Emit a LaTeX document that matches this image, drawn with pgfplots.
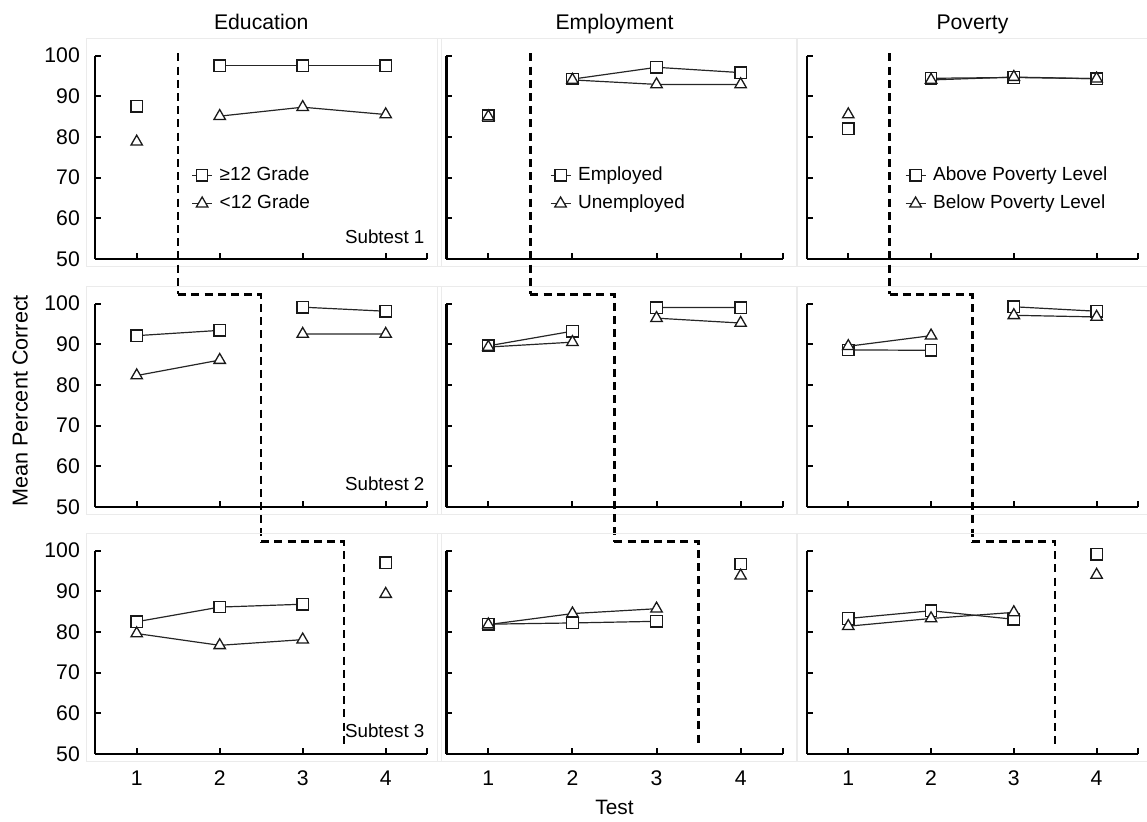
\documentclass[border=0pt]{standalone}
\usepackage{fontspec}
\setmainfont{Liberation Sans}
\usepackage{pgfplots}
\pgfplotsset{compat=1.18}
\pgfplotsset{
  panel/.style={
    scale only axis, height=101.75pt,
    xmin=0.5, xmax=4.5, ymin=50, ymax=100,
    axis x line*=bottom, axis y line*=left,
    axis line style={line width=1.2pt, -, black},
    tick align=inside, major tick length=2.8pt,
    every tick/.style={black, line width=1pt},
    xtick={1,2,3,4}, ytick={50,60,70,80,90,100},
    extra x ticks={4.5}, extra x tick labels={},
    extra x tick style={grid=none, tick align=inside, major tick length=2.8pt},
    xticklabels={}, yticklabels={},
    tick label style={font=\fontsize{10.6}{12}\selectfont},
    yticklabel style={anchor=east, inner sep=0pt, xshift=-7.5pt},
    xticklabel style={anchor=base, inner sep=0pt, yshift=-15.5pt},
    /pgf/number format/assume math mode=true,
    clip=false, anchor=south west,
    unbounded coords=jump,
    legend cell align=left,
    legend image code/.code={\draw[mark repeat=2,mark phase=2] plot coordinates {(0pt,0pt) (5pt,0pt) (10pt,0pt)};},
    legend style={draw=none, fill=none, inner sep=0pt, anchor=west,
      font=\fontsize{9.5}{11}\selectfont, row sep=3.3pt, column sep=2.5pt,
      nodes={inner sep=1pt, text height=6.9pt, text depth=2pt}},
  },
  ylab/.style={yticklabels={50,60,70,80,90,100}},
  xlab/.style={xticklabels={1,2,3,4}},
  sq/.style={color=black!85, line width=0.6pt, mark=square*, mark size=2.85pt,
    mark options={fill=white, draw=black!90, line width=0.65pt}},
  tri/.style={color=black!85, line width=0.6pt, mark=triangle*, mark size=3.3pt,
    mark options={fill=white, draw=black!90, line width=0.65pt}},
}
\tikzset{
  sep/.style={black, line width=1.2pt, dash pattern=on 4pt off 2.6pt},
  frame/.style={black!8, line width=0.5pt},
  ttl/.style={anchor=base, font=\fontsize{10.6}{12}\selectfont},
  sub/.style={anchor=base east, inner sep=0pt, font=\fontsize{9.4}{11}\selectfont},
}
\begin{document}
\begin{tikzpicture}
\useasboundingbox (0pt,0pt) rectangle (573.5pt,410.5pt);

% ===== Row 1 (Subtest 1) =====
\begin{axis}[panel, ylab, width=166pt, at={(47.6pt,281pt)},
  legend style={at={(0.289,0.342)}}]
  \draw[frame] (axis description cs:-0.027,-0.038) rectangle (axis description cs:1.042,1.082);
  \addplot[sq] coordinates {(1,87.5) (1.5,nan) (2,97.5) (3,97.5) (4,97.5)};
  \addlegendentry{≥12 Grade}
  \addplot[tri] coordinates {(1,78.8) (1.5,nan) (2,85.1) (3,87.3) (4,85.5)};
  \addlegendentry{<12 Grade}
  \draw[sep] (axis cs:1.5,100.5) -- (axis cs:1.5,41.3);
  \node[ttl] at (axis description cs:0.5,1.1266) {Education};
  \node[sub] at (axis description cs:0.993,0.077) {Subtest 1};
\end{axis}

\begin{axis}[panel, width=168.2pt, at={(223.15pt,281pt)},
  legend style={at={(0.307,0.342)}}]
  \draw[frame] (axis description cs:-0.027,-0.038) rectangle (axis description cs:1.042,1.082);
  \addplot[sq] coordinates {(1,85.2) (1.5,nan) (2,94.2) (3,97.1) (4,95.8)};
  \addlegendentry{Employed}
  \addplot[tri] coordinates {(1,85.0) (1.5,nan) (2,94.0) (3,92.9) (4,92.9)};
  \addlegendentry{Unemployed}
  \draw[sep] (axis cs:1.5,100.5) -- (axis cs:1.5,41.3);
  \node[ttl] at (axis description cs:0.5,1.1266) {Employment};
\end{axis}

\begin{axis}[panel, width=165.55pt, at={(403.45pt,281pt)},
  legend style={at={(0.295,0.342)}}]
  \draw[frame] (axis description cs:-0.027,-0.038) rectangle (axis description cs:1.042,1.082);
  \addplot[sq] coordinates {(1,82.0) (1.5,nan) (2,94.4) (3,94.6) (4,94.3)};
  \addlegendentry{Above Poverty Level}
  \addplot[tri] coordinates {(1,85.5) (1.5,nan) (2,94.0) (3,94.7) (4,94.3)};
  \addlegendentry{Below Poverty Level}
  \draw[sep] (axis cs:1.5,100.5) -- (axis cs:1.5,41.3);
  \node[ttl] at (axis description cs:0.5,1.1266) {Poverty};
\end{axis}

% ===== Row 2 (Subtest 2) =====
\begin{axis}[panel, ylab, width=166pt, at={(47.6pt,157pt)}]
  \draw[frame] (axis description cs:-0.027,-0.038) rectangle (axis description cs:1.042,1.082);
  \addplot[sq] coordinates {(1,92.1) (2,93.4) (2.5,nan) (3,99.1) (4,98.1)};
  \addplot[tri] coordinates {(1,82.3) (2,86.1) (2.5,nan) (3,92.5) (4,92.5)};
  \draw[sep] (axis cs:1.5,102.2) -- (axis cs:2.5,102.2) -- (axis cs:2.5,41.4);
  \node[sub] at (axis description cs:0.993,0.08) {Subtest 2};
  \node[rotate=90, anchor=center, font=\fontsize{10.8}{13}\selectfont] at (axis description cs:-0.226,0.522) {Mean Percent Correct};
\end{axis}

\begin{axis}[panel, width=168.2pt, at={(223.15pt,157pt)}]
  \draw[frame] (axis description cs:-0.027,-0.038) rectangle (axis description cs:1.042,1.082);
  \addplot[sq] coordinates {(1,89.6) (2,93.2) (2.5,nan) (3,99.0) (4,99.0)};
  \addplot[tri] coordinates {(1,89.3) (2,90.5) (2.5,nan) (3,96.4) (4,95.2)};
  \draw[sep] (axis cs:1.5,102.2) -- (axis cs:2.5,102.2) -- (axis cs:2.5,41.4);
\end{axis}

\begin{axis}[panel, width=165.55pt, at={(403.45pt,157pt)}]
  \draw[frame] (axis description cs:-0.027,-0.038) rectangle (axis description cs:1.042,1.082);
  \addplot[sq] coordinates {(1,88.6) (2,88.5) (2.5,nan) (3,99.2) (4,98.1)};
  \addplot[tri] coordinates {(1,89.5) (2,92.1) (2.5,nan) (3,97.1) (4,96.7)};
  \draw[sep] (axis cs:1.5,102.2) -- (axis cs:2.5,102.2) -- (axis cs:2.5,41.4);
\end{axis}

% ===== Row 3 (Subtest 3) =====
\begin{axis}[panel, ylab, xlab, width=166pt, at={(47.6pt,33.5pt)}]
  \draw[frame] (axis description cs:-0.027,-0.038) rectangle (axis description cs:1.042,1.082);
  \addplot[sq] coordinates {(1,82.5) (2,86.1) (3,86.8) (3.5,nan) (4,97.0)};
  \addplot[tri] coordinates {(1,79.6) (2,76.7) (3,78.1) (3.5,nan) (4,89.3)};
  \draw[sep] (axis cs:2.5,102.2) -- (axis cs:3.5,102.2) -- (axis cs:3.5,52);
  \node[sub] at (axis description cs:0.993,0.08) {Subtest 3};
\end{axis}

\begin{axis}[panel, xlab, width=168.2pt, at={(223.15pt,33.5pt)}]
  \draw[frame] (axis description cs:-0.027,-0.038) rectangle (axis description cs:1.042,1.082);
  \addplot[sq] coordinates {(1,81.9) (2,82.2) (3,82.6) (3.5,nan) (4,96.7)};
  \addplot[tri] coordinates {(1,81.8) (2,84.5) (3,85.7) (3.5,nan) (4,93.8)};
  \draw[sep] (axis cs:2.5,102.2) -- (axis cs:3.5,102.2) -- (axis cs:3.5,52);
  \node[anchor=base, font=\fontsize{10.4}{12}\selectfont] at (axis description cs:0.5,-0.297) {Test};
\end{axis}

\begin{axis}[panel, xlab, width=165.55pt, at={(403.45pt,33.5pt)}]
  \draw[frame] (axis description cs:-0.027,-0.038) rectangle (axis description cs:1.042,1.082);
  \addplot[sq] coordinates {(1,83.3) (2,85.2) (3,83.1) (3.5,nan) (4,99.1)};
  \addplot[tri] coordinates {(1,81.4) (2,83.3) (3,84.8) (3.5,nan) (4,94.0)};
  \draw[sep] (axis cs:2.5,102.2) -- (axis cs:3.5,102.2) -- (axis cs:3.5,52);
\end{axis}
\end{tikzpicture}
\end{document}
